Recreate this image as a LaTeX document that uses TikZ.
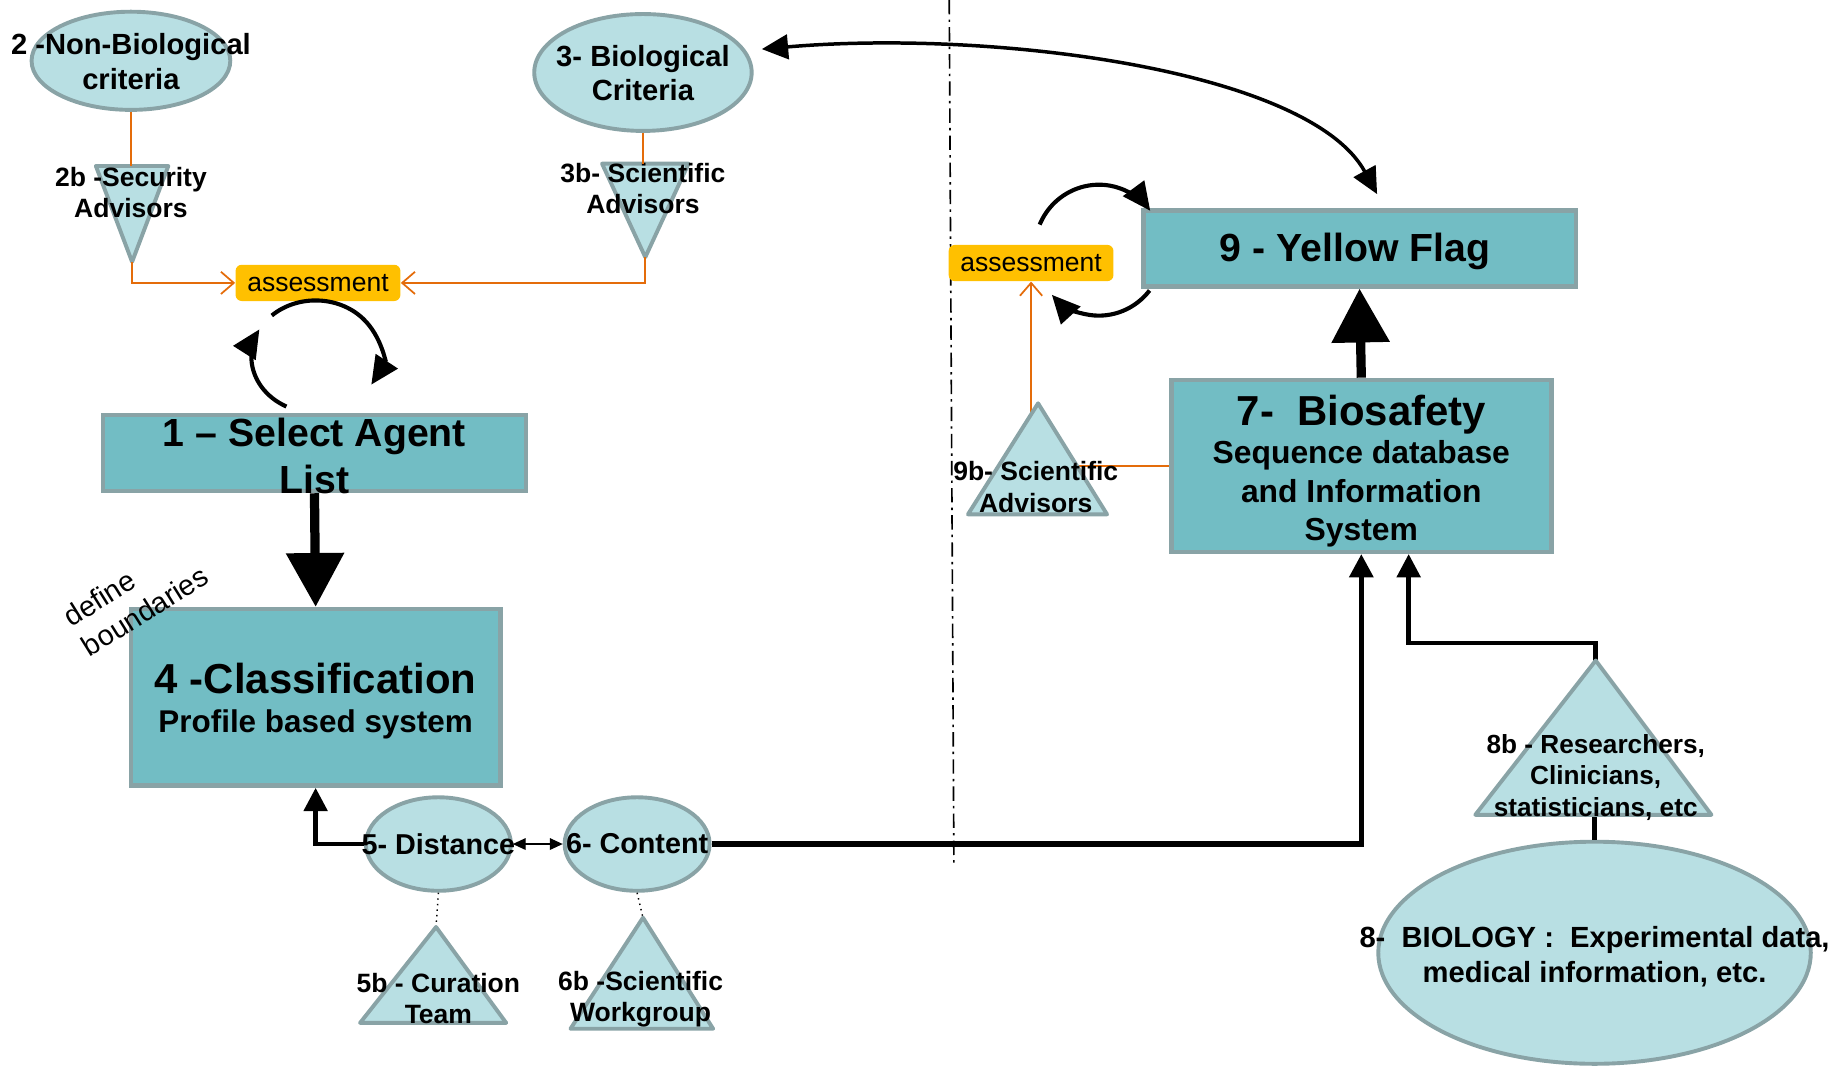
\documentclass[tikz,border=0pt]{standalone}
\usepackage{fontspec}
\setmainfont{Liberation Sans}
\usepackage{xcolor}
\usepackage{tikz}
\usetikzlibrary{shapes.geometric, arrows.meta, positioning, calc}
\definecolor{bubblefill}{RGB}{184, 223, 227}
\definecolor{bubbleline}{RGB}{137, 163, 166}
\definecolor{boxfill}{RGB}{114, 189, 196}
\definecolor{assessyellow}{RGB}{255, 192, 0}
\definecolor{linkorange}{RGB}{228, 108, 10}
\tikzstyle{bubble} = [ellipse, draw=bubbleline, fill=bubblefill, line width=1.9pt, inner sep=0pt]
\tikzstyle{stepbox} = [rectangle, draw=bubbleline, fill=boxfill, line width=2.2pt, inner sep=0pt]
\tikzstyle{team} = [draw=bubbleline, fill=bubblefill, line width=1.9pt, line join=round]
\tikzstyle{assess} = [rectangle, fill=assessyellow, rounded corners=3pt, minimum width=2.82cm, minimum height=0.62cm, inner sep=0pt, font=\fontsize{12.9}{15}\selectfont]
\tikzstyle{bubbletext} = [font=\fontsize{14.2}{17}\selectfont\bfseries, align=center, inner sep=0pt]
\tikzstyle{teamtext} = [font=\fontsize{12.9}{15.3}\selectfont\bfseries, align=center, inner sep=0pt]
\tikzstyle{titletext} = [font=\fontsize{19.1}{22.7}\selectfont\bfseries, align=center, inner sep=0pt]
\tikzstyle{orangelink} = [draw=linkorange, line width=0.85pt]
\tikzstyle{orangearrow} = [orangelink, -{Straight Barb[length=0.22cm, width=0.38cm]}]
\tikzstyle{arrow} = [-{Triangle[length=0.4cm, width=0.4cm]}, line width=2.2pt]
\tikzstyle{looparrow} = [-{Triangle[length=0.48cm, width=0.44cm]}, line width=2pt]
\tikzstyle{bigarrow} = [-{Triangle[length=0.92cm, width=0.96cm]}, line width=4.5pt]

\begin{document}
\begin{tikzpicture}
    \useasboundingbox (0, 0) rectangle (31.36, -18.24);

    % Criteria
    \node[bubble, minimum width=3.4cm, minimum height=1.68cm] (nonbio) at (2.24, -1.04) {};
    \node[bubbletext] (nonbiotext) at (2.24, -1.06) {2 -Non-Biological\\criteria};
    \node[bubble, minimum width=3.72cm, minimum height=2cm] (biocrit) at (11, -1.24) {};
    \node[bubbletext] (biocrittext) at (11, -1.25) {3- Biological\\Criteria};

    % Advisors
    \coordinate (t2btop) at (2.24, -2.84);
    \coordinate (t2b) at (2.26, -4.48);
    \draw[team] (1.64, -2.84) -- (2.88, -2.84) -- (t2b) -- cycle;
    \node[teamtext] (t2btext) at (2.24, -3.29) {2b -Security\\Advisors};
    \coordinate (t3btop) at (11, -2.8);
    \coordinate (t3b) at (11.04, -4.4);
    \draw[team] (10.3, -2.8) -- (11.78, -2.8) -- (t3b) -- cycle;
    \node[teamtext] (t3btext) at (11, -3.23) {3b- Scientific\\Advisors};

    \node[assess] (assess1) at (5.44, -4.84) {assessment};

    \draw[orangelink] (nonbio.south) -- (t2btop);
    \draw[orangelink] (biocrit.south) -- (t3btop);
    \draw[orangearrow] (t2b) |- (assess1.west);
    \draw[orangearrow] (t3b) |- (assess1.east);

    % Select Agent List
    \node[stepbox, minimum width=7.24cm, minimum height=1.3cm] (selectlist) at (5.38, -7.75) {};
    \node[titletext] (selecttext) at (5.38, -7.8) {1 -- Select Agent\\List};

    \coordinate (loopleft) at (5.4, -6.1);
    \draw[looparrow] (loopleft) ++(-117:1.1 and 0.96) arc[start angle=-117, end angle=-209, x radius=1.1, y radius=0.96];
    \draw[looparrow] (loopleft) ++(133:1.1 and 0.96) arc[start angle=133, end angle=-30, x radius=1.1, y radius=0.96];

    % Classification
    \node[stepbox, minimum width=6.32cm, minimum height=3.02cm] (classif) at (5.4, -11.93) {};
    \node[align=center, font=\fontsize{15.3}{19}\selectfont\bfseries] (classiftext) at (5.4, -12.0) {{\fontsize{20.4}{24}\selectfont 4 -Classification}\\Profile based system};
    \node[rotate=32, align=left, inner sep=0pt, font=\fontsize{14}{17}\selectfont] (boundtext) at (2.32, -10.2) {define\\boundaries};

    \draw[bigarrow] (selectlist.south) -- (classif.north);

    % Distance and Content
    \node[bubble, minimum width=2.48cm, minimum height=1.6cm] (dist) at (7.5, -14.44) {};
    \node[bubble, minimum width=2.48cm, minimum height=1.6cm] (content) at (10.9, -14.44) {};
    \draw[arrow] (dist.west) -| (classif.south);
    \draw[{Triangle[length=0.22cm, width=0.2cm]}-{Triangle[length=0.22cm, width=0.2cm]}, line width=0.6pt] (dist.east) -- (content.west);
    \node[bubbletext, font=\fontsize{14}{17}\selectfont\bfseries] (disttext) at (7.5, -14.44) {5- Distance};
    \node[bubbletext, font=\fontsize{14}{17}\selectfont\bfseries] (contenttext) at (10.9, -14.44) {6- Content};

    \coordinate (t5b) at (7.46, -15.86);
    \coordinate (t6b) at (11, -15.7);
    \draw[dotted, line width=0.7pt] (dist.south) -- (t5b);
    \draw[dotted, line width=0.7pt] (content.south) -- (t6b);
    \draw[team] (t5b) -- (8.66, -17.5) -- (6.16, -17.5) -- cycle;
    \node[teamtext] (t5btext) at (7.5, -17.08) {5b - Curation\\Team};
    \draw[team] (t6b) -- (12.2, -17.6) -- (9.76, -17.6) -- cycle;
    \node[teamtext] (t6btext) at (10.96, -17.09) {6b -Scientific\\Workgroup};

    % Divider
    \draw[line width=0.8pt, dash pattern=on 7pt off 2.5pt on 1.2pt off 2.5pt] (16.24, 0) -- (16.32, -14.84);

    % Yellow Flag and Biosafety
    \node[stepbox, minimum width=7.4cm, minimum height=1.3cm] (yellowflag) at (23.26, -4.25) {};
    \node[titletext] (flagtext) at (23.18, -4.3) {9 - Yellow Flag};
    \node[stepbox, minimum width=6.5cm, minimum height=2.94cm] (biosafety) at (23.29, -7.97) {};
    \node[align=center, font=\fontsize{15.5}{18.7}\selectfont\bfseries] (biosafetytext) at (23.29, -8.06) {{\fontsize{20.4}{24}\selectfont 7-\ \ Biosafety}\\Sequence database\\and Information\\System};

    \draw[bigarrow] (biosafety.north) -- (yellowflag.south);
    \draw[arrow, line width=2.6pt] (content.east) -| (biosafety.south);

    \node[assess] (assess9) at (17.64, -4.5) {assessment};
    \coordinate (loopright) at (18.8, -4.28);
    \draw[looparrow] (loopright) ++(157:1.1 and 1.12) arc[start angle=157, end angle=37, x radius=1.1, y radius=1.12];
    \draw[looparrow] (loopright) ++(-38:1.1 and 1.12) arc[start angle=-38, end angle=-137, x radius=1.1, y radius=1.12];

    \coordinate (t9b) at (17.76, -6.9);
    \coordinate (t9bin) at (17.64, -7.1);
    \coordinate (t9bedge) at (18.43, -7.97);
    \draw[orangearrow] (t9bin) -- (assess9.south);
    \draw[orangelink] (t9bedge) -- (biosafety.west);
    \draw[team] (t9b) -- (18.94, -8.8) -- (16.56, -8.8) -- cycle;
    \node[teamtext] (t9btext) at (17.72, -8.33) {9b- Scientific\\Advisors};

    \draw[{Triangle[length=0.45cm, width=0.42cm]}-{Triangle[length=0.45cm, width=0.42cm]}, line width=1.7pt] ([xshift=0.14cm, yshift=0.4cm]biocrit.east) .. controls (17, -0.5) and (22.4, -1.2) .. ([xshift=0.3cm, yshift=0.24cm]yellowflag.north);

    % Biology
    \node[bubble, minimum width=7.4cm, minimum height=3.8cm] (biology) at (27.28, -16.3) {};
    \node[bubbletext] (biologytext) at (27.28, -16.36) {8-\ \ BIOLOGY :\ \ Experimental data,\\medical information, etc.};

    \coordinate (t8b) at (27.3, -11.3);
    \coordinate (t8bbase) at (27.26, -13.94);
    \draw[arrow] (t8b) -- ++(0, 0.3) -| ([xshift=0.81cm]biosafety.south);
    \draw[line width=2.2pt] (biology.north) -- (biology.north |- t8bbase);
    \draw[team] (t8b) -- (29.28, -13.94) -- (25.24, -13.94) -- cycle;
    \node[teamtext, font=\fontsize{12.75}{15.3}\selectfont\bfseries] (t8btext) at (27.3, -13.3) {8b - Researchers,\\Clinicians,\\statisticians, etc};
\end{tikzpicture}
\end{document}
